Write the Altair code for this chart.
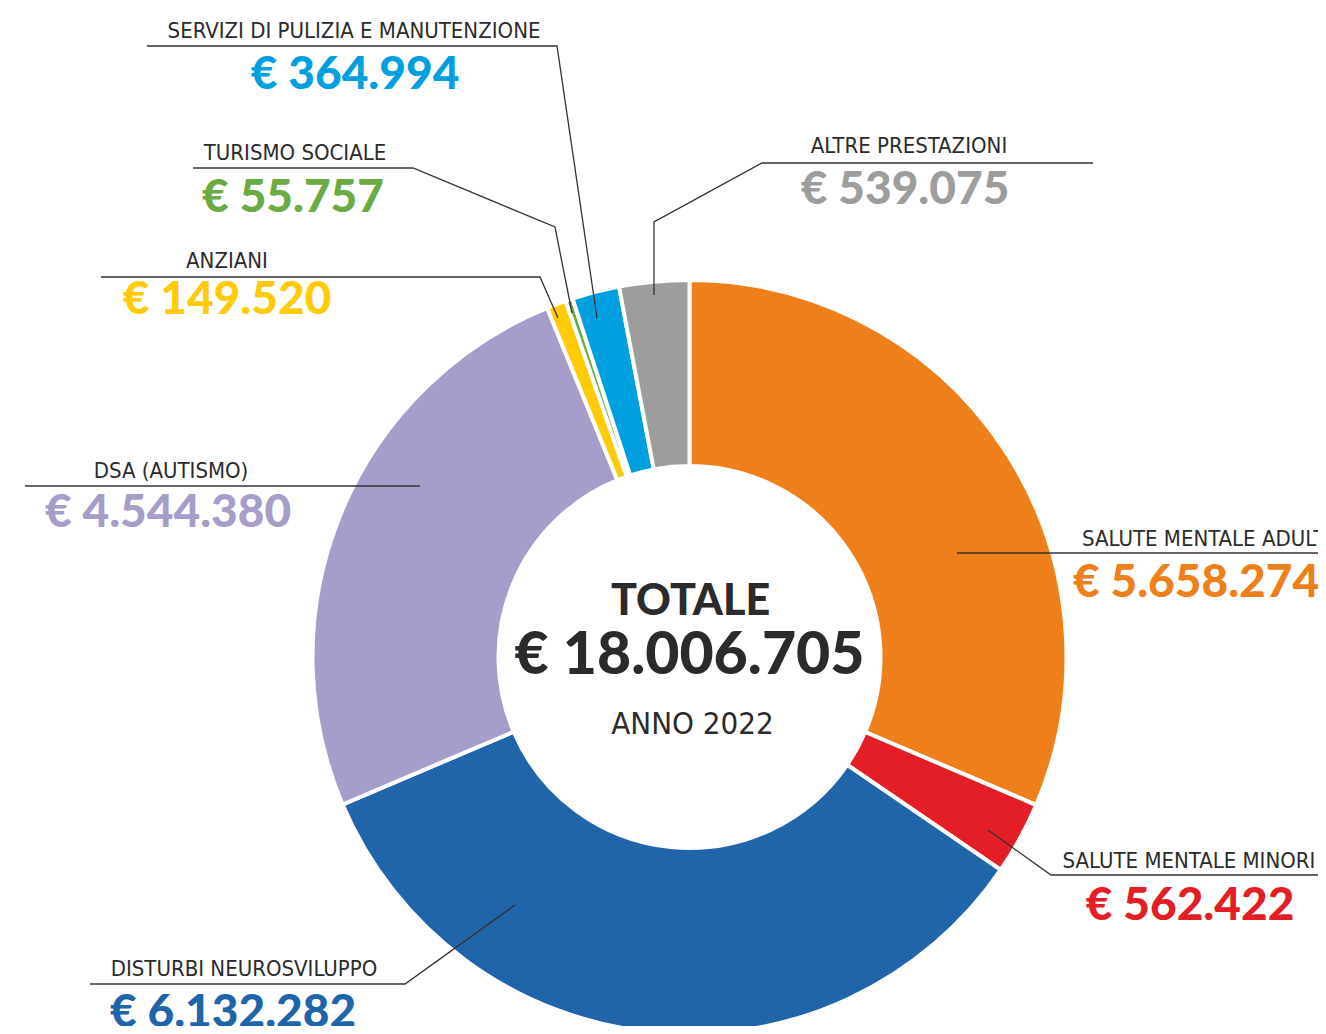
import altair as alt
import pandas as pd

# ---------------- data ----------------
categories = [
    "SALUTE MENTALE ADULTI",
    "SALUTE MENTALE MINORI",
    "DISTURBI NEUROSVILUPPO",
    "DSA (AUTISMO)",
    "ANZIANI",
    "TURISMO SOCIALE",
    "SERVIZI DI PULIZIA E MANUTENZIONE",
    "ALTRE PRESTAZIONI",
]
values = [5658274, 562422, 6132282, 4544380, 149520, 55757, 364994, 539075]
colors = ["#EF7F1A", "#E31E26", "#2064A9", "#A69DCB", "#FFCB05", "#6AAB43", "#009FE0", "#9D9D9C"]
total_title = "TOTALE"
total_value = 18006705
year_label = "ANNO 2022"


def euro(v):
    return "€ " + f"{v:,}".replace(",", ".")


# ---------------- layout (page pixel coordinates) ----------------
W, H, M = 1310, 1018, 8
CX, CY = 689.5, 657
R_OUT, R_IN = 377, 191

label_xy = [(1082, 546), (1189, 868), (244, 976), (171, 478),
            (227, 268), (295, 160), (354, 38), (909, 153)]
label_align = ["left", "center", "center", "center", "center", "center", "center", "center"]
value_xy = [(1196, 597), (1190, 920), (233, 1027), (168, 527),
            (227, 314), (293, 212), (355, 89), (905, 204)]
leaders = [
    [(957, 553), (1326, 553)],
    [(988, 830), (1051, 875), (1326, 875)],
    [(515, 905), (405, 984), (90, 984)],
    [(420, 486), (25, 486)],
    [(558, 318), (540, 277), (101, 277)],
    [(572, 313), (555, 227), (413, 168), (193, 168)],
    [(597, 318), (557, 46), (147, 46)],
    [(654, 295), (654, 222), (762, 163), (1093, 163)],
]

xs = alt.Scale(domain=[M, M + W], range=[0, W])
ys = alt.Scale(domain=[M, M + H], range=[0, H])
LABEL_FONT = "'Liberation Sans Narrow', 'Arial Narrow', 'DejaVu Sans Condensed', sans-serif"
VALUE_FONT = "Lato, 'Open Sans', sans-serif"

# ---------------- tables ----------------
slices = pd.DataFrame({"cat": categories, "value": values, "idx": range(len(categories)), "col": colors})

labels_df = pd.DataFrame({
    "text": categories,
    "x": [p[0] for p in label_xy],
    "y": [p[1] for p in label_xy],
    "align": label_align,
})
values_df = pd.DataFrame({
    "text": [euro(v) for v in values],
    "col": colors,
    "x": [p[0] for p in value_xy],
    "y": [p[1] for p in value_xy],
})
rows = []
for cat, pts in zip(categories, leaders):
    for i, (x, y) in enumerate(pts):
        rows.append({"cat": cat, "i": i, "x": x, "y": y})
lines_df = pd.DataFrame(rows)

# ---------------- layers ----------------
arcs = alt.Chart(slices).mark_arc(
    innerRadius=R_IN, outerRadius=R_OUT, stroke="white", strokeWidth=4
).encode(
    theta=alt.Theta("value:Q", stack=True),
    color=alt.Color("col:N", scale=None),
    order=alt.Order("idx:Q"),
    x=alt.value(CX - M),
    y=alt.value(CY - M),
)

lines = alt.Chart(lines_df).mark_line(color="#333333", strokeWidth=1.3).encode(
    x=alt.X("x:Q", scale=xs, axis=None),
    y=alt.Y("y:Q", scale=ys, axis=None),
    detail="cat:N",
    order=alt.Order("i:Q"),
)


def label_layer(align):
    return alt.Chart(labels_df[labels_df["align"] == align]).mark_text(
        font=LABEL_FONT, fontSize=22, color="#2b2b2b", align=align, baseline="alphabetic"
    ).encode(
        x=alt.X("x:Q", scale=xs, axis=None),
        y=alt.Y("y:Q", scale=ys, axis=None),
        text="text:N",
    )


value_text = alt.Chart(values_df).mark_text(
    font=VALUE_FONT, fontSize=46, fontWeight=900, align="center", baseline="alphabetic"
).encode(
    x=alt.X("x:Q", scale=xs, axis=None),
    y=alt.Y("y:Q", scale=ys, axis=None),
    text="text:N",
    color=alt.Color("col:N", scale=None),
)

center_df = pd.DataFrame({
    "text": [total_title, euro(total_value), year_label],
    "x": [CX + 1, CX, CX + 3],
    "y": [615, 674, 734],
    "kind": ["title", "value", "year"],
})


def center_layer(kind, font, size, weight):
    return alt.Chart(center_df[center_df["kind"] == kind]).mark_text(
        font=font, fontSize=size, fontWeight=weight, color="#2b2b2b",
        align="center", baseline="alphabetic"
    ).encode(
        x=alt.X("x:Q", scale=xs, axis=None),
        y=alt.Y("y:Q", scale=ys, axis=None),
        text="text:N",
    )


center_title = center_layer("title", VALUE_FONT, 43, 900)
center_value = center_layer("value", VALUE_FONT, 59, 900)
center_year = center_layer("year", LABEL_FONT, 31, "normal")

chart = alt.layer(
    arcs, lines, label_layer("left"), label_layer("center"), value_text,
    center_title, center_value, center_year
).properties(
    width=W, height=H, padding=0, autosize=alt.AutoSizeParams(type="none"),
    background="white",
).configure_view(stroke=None)

chart.save("out.html", embed_options={"renderer": "svg", "actions": False})
